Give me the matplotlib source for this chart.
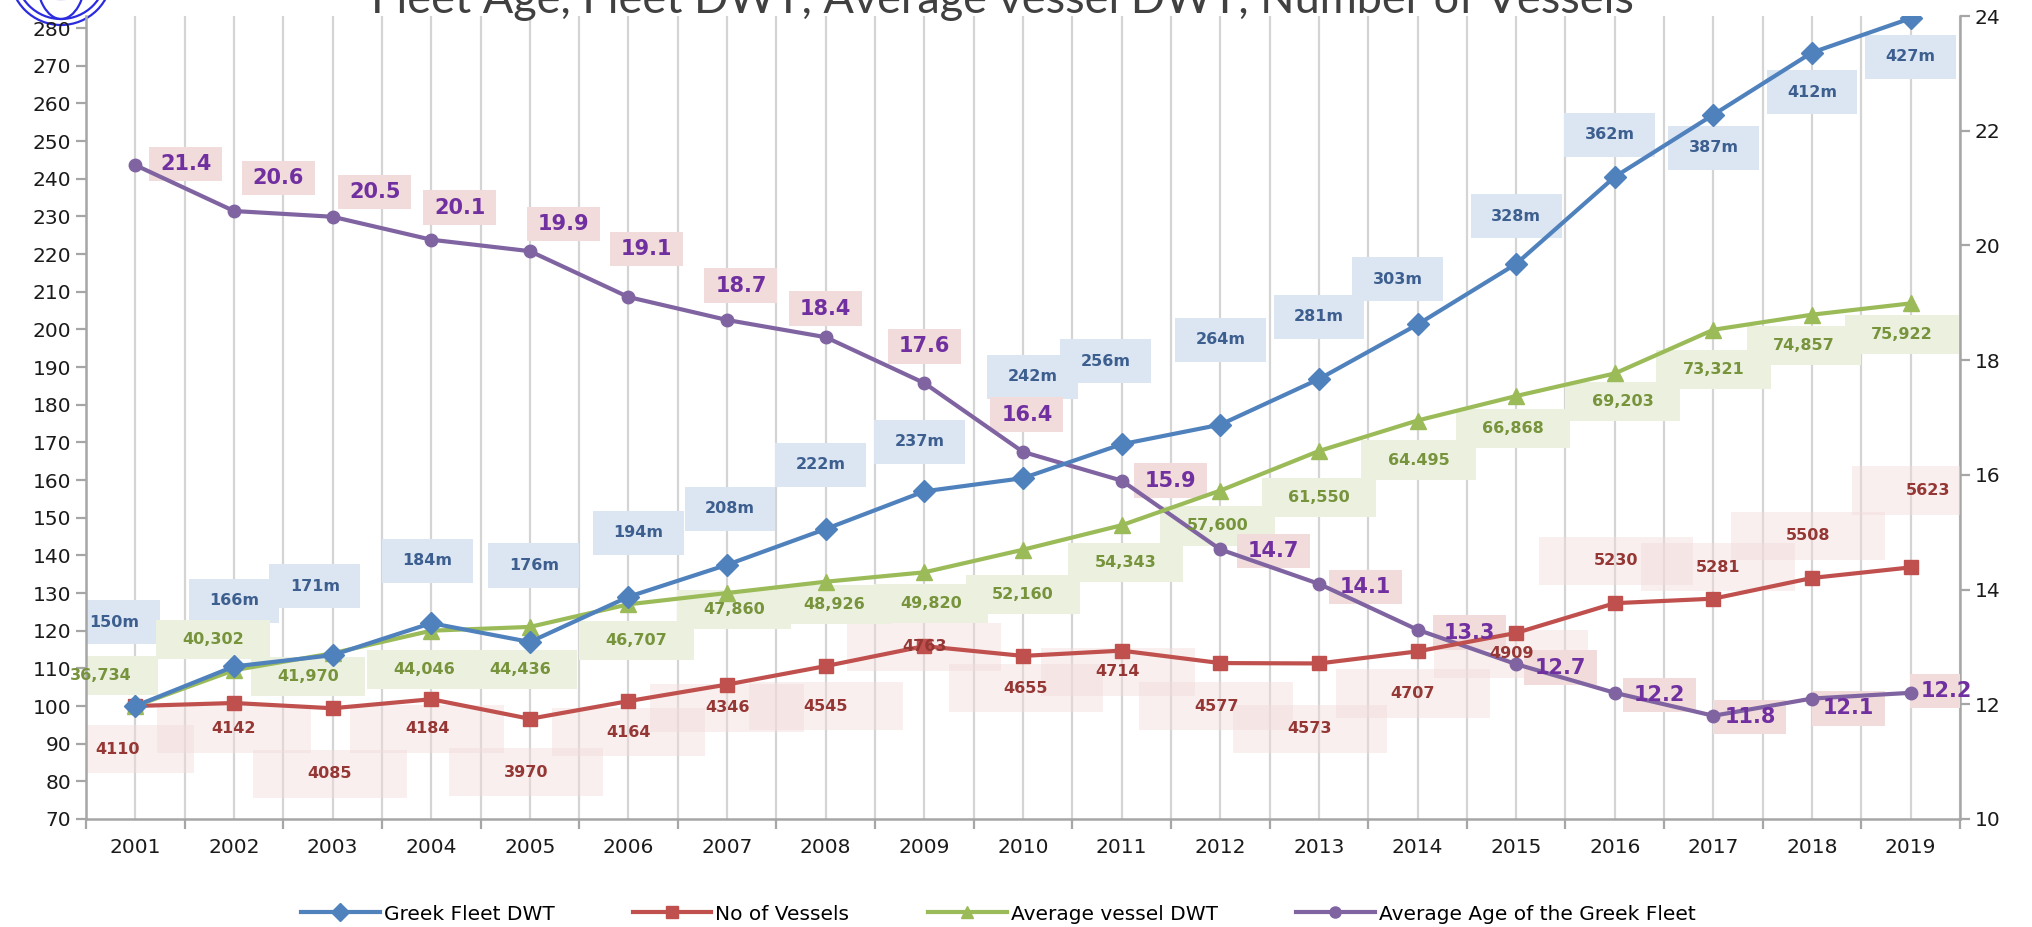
import matplotlib
matplotlib.use("Agg")
import matplotlib.pyplot as plt
from matplotlib.patches import Rectangle, Ellipse
from matplotlib.lines import Line2D

# ---------------- data ----------------
years = [str(y) for y in range(2001, 2020)]
fleet_dwt_index = [100, 110.5, 113.5, 122, 117, 129, 137.5, 147, 157, 160.5,
                   169.5, 174.7, 186.8, 201.3, 217.4, 240.5, 257, 273.5, 282.6]
fleet_dwt_labels = ["150m", "166m", "171m", "184m", "176m", "194m", "208m", "222m",
                    "237m", "242m", "256m", "264m", "281m", "303m", "328m", "362m",
                    "387m", "412m", "427m"]
vessels_index = [100, 100.8, 99.4, 101.8, 96.6, 101.3, 105.7, 110.6, 115.9, 113.3,
                 114.7, 111.4, 111.3, 114.5, 119.4, 127.3, 128.5, 134, 136.8]
vessels_labels = ["4110", "4142", "4085", "4184", "3970", "4164", "4346", "4545",
                  "4763", "4655", "4714", "4577", "4573", "4707", "4909", "5230",
                  "5281", "5508", "5623"]
avg_dwt_index = [100, 109.5, 114, 120, 121, 127, 130, 133, 135.5, 141.5,
                 148, 157.2, 167.7, 175.8, 182.3, 188.3, 199.9, 203.9, 206.9]
avg_dwt_labels = ["36,734", "40,302", "41,970", "44,046", "44,436", "46,707", "47,860",
                  "48,926", "49,820", "52,160", "54,343", "57,600", "61,550", "64.495",
                  "66,868", "69,203", "73,321", "74,857", "75,922"]
avg_age = [21.4, 20.6, 20.5, 20.1, 19.9, 19.1, 18.7, 18.4, 17.6, 16.4,
           15.9, 14.7, 14.1, 13.3, 12.7, 12.2, 11.8, 12.1, 12.2]

# ---------------- label layout (offsets from points) ----------------
blue_dx = [-0.21, 0, -0.18, -0.04, 0.04, 0.1, 0.03, -0.05, -0.05, 0.1, -0.16, 0, 0, -0.2, 0, -0.05, 0, 0, 0]
blue_dy = [22.2, 17.5, 18.3, 16.6, 20.3, 17, 14.9, 17, 13.2, 26.9, 22, 22.5, 16.5, 12, 12.6, 11.2, -8.8, -10.5, -10.2]
green_dx = [-0.35, -0.21, -0.25, -0.07, -0.1, 0.08, 0.07, 0.09, 0.07, 0, 0.04, -0.03, 0, 0.01, -0.03, 0.08, 0, -0.08, -0.09]
green_dy = [8.1, 8.2, -6.2, -10.2, -11.2, -9.6, -4.4, -6, -8.2, -11.8, -10, -9.4, -12.4, -10.5, -8.7, -7.5, -10.5, -8.2, -8.2]
red_dx = [-0.18, 0, -0.03, -0.04, -0.04, 0, 0, 0, 0, 0.03, -0.04, -0.04, -0.09, -0.05, -0.05, 0.01, 0.05, -0.04, 0.18]
red_dy = [-11.5, -6.8, -17.4, -7.8, -14.2, -8.3, -6.2, -10.7, -0.2, -8.6, -5.6, -11.5, -17.3, -11.2, -5.5, 11.3, 8.4, 11.2, 20.4]
purple_dx = [0.51, 0.45, 0.43, 0.29, 0.34, 0.18, 0.14, 0, 0, 0.04, 0.5, 0.54, 0.47, 0.53, 0.45, 0.45, 0.37, 0.37, 0.36]
purple_dy = [0.02, 0.58, 0.43, 0.56, 0.47, 0.84, 0.6, 0.5, 0.64, 0.65, 0, -0.03, -0.06, -0.05, -0.06, -0.04, -0.02, -0.17, 0.03]

BLUE, RED, GREEN, PURPLE = "#4F81BD", "#C0504D", "#9BBB59", "#8064A2"
AXCOL = "#A6A6A6"

plt.rcParams["font.family"] = ["DejaVu Sans"]
fig = plt.figure(figsize=(20.33, 9.27), dpi=100)
ax = fig.add_axes([86/2033, 1-819/927, (1960-86)/2033, (819-16)/927])
ax2 = ax.twinx()
# right axis underneath (grid only), main axis on top (transparent)
ax2.set_zorder(1)
ax.set_zorder(2)
ax.patch.set_visible(False)

ax.set_xlim(-0.5, len(years) - 0.5)
ax.set_ylim(70, 283.2)
ax2.set_ylim(10, 24)

x = list(range(len(years)))

# vertical gridlines (on categories and between them)
for xi in [i * 0.5 - 0.5 for i in range(2 * len(years) + 1)]:
    ax2.axvline(xi, color="#D4D4D4", lw=1.6, zorder=0)

t2 = ax2.transData

# ---- label boxes
for i in range(len(years)):
    cx, cy = i + red_dx[i], vessels_index[i] + red_dy[i]
    ax.add_patch(Rectangle((cx - 0.78, cy - 6.4), 1.56, 12.8, facecolor="#F2DCDB",
                           edgecolor="none", alpha=0.45, zorder=1))
for i in range(len(years)):
    cx, cy = i + blue_dx[i], fleet_dwt_index[i] + blue_dy[i]
    ax.add_patch(Rectangle((cx - 0.46, cy - 5.85), 0.92, 11.7, facecolor="#DCE6F2",
                           edgecolor="none", zorder=1.2))
for i in range(len(years)):
    cx, cy = i + green_dx[i], avg_dwt_index[i] + green_dy[i]
    ax.add_patch(Rectangle((cx - 0.58, cy - 5.2), 1.16, 10.4, facecolor="#EBF1DE",
                           edgecolor="none", zorder=1.3))
for i in range(len(years)):
    cx, cy = i + purple_dx[i], avg_age[i] + purple_dy[i]
    ax.add_patch(Rectangle((cx - 0.37, cy - 0.3), 0.74, 0.6, facecolor="#F2DCDB",
                           edgecolor="none", zorder=1.4, transform=t2))

# ---- series
ax.plot(x, avg_age, color=PURPLE, lw=3, marker="o", ms=9, zorder=3, transform=t2)
ax.plot(x, vessels_index, color=RED, lw=3, marker="s", ms=10, zorder=3.05)
ax.plot(x, avg_dwt_index, color=GREEN, lw=3, marker="^", ms=11, zorder=3.1)
ax.plot(x, fleet_dwt_index, color=BLUE, lw=3, marker="D", ms=11, zorder=3.2)

# ---- labels
for i in range(len(years)):
    ax.text(i + red_dx[i], vessels_index[i] + red_dy[i], vessels_labels[i], ha="center",
            va="center", fontsize=11.5, fontweight="bold", color="#953735", zorder=4)
    ax.text(i + blue_dx[i], fleet_dwt_index[i] + blue_dy[i], fleet_dwt_labels[i], ha="center",
            va="center", fontsize=11.5, fontweight="bold", color="#3D5F8F", zorder=4)
    ax.text(i + green_dx[i], avg_dwt_index[i] + green_dy[i], avg_dwt_labels[i], ha="center",
            va="center", fontsize=11.5, fontweight="bold", color="#77933C", zorder=4)
    ax.text(i + purple_dx[i], avg_age[i] + purple_dy[i], f"{avg_age[i]:.1f}", ha="center",
            va="center", fontsize=15, fontweight="bold", color="#7030A0", zorder=4,
            transform=t2)

# ---- axes formatting
ax.set_yticks(range(70, 281, 10))
ax2.set_yticks(range(10, 25, 2))
ax.set_xticks(x)
ax.set_xticklabels(years, fontsize=14.5)
ax.set_xticks([i - 0.5 for i in range(len(years) + 1)], minor=True)
ax.tick_params(axis="x", which="major", length=0, pad=14, colors="#1A1A1A")
ax.tick_params(axis="x", which="minor", length=7, width=1.6, color=AXCOL)
ax.tick_params(axis="y", labelsize=14.5, length=7, width=1.6, color=AXCOL, labelcolor="#1A1A1A")
ax2.tick_params(axis="y", labelsize=14.5, length=7, width=1.6, color=AXCOL, labelcolor="#1A1A1A")
for a in (ax, ax2):
    a.spines["top"].set_visible(False)
    for s in ("left", "right", "bottom"):
        a.spines[s].set_color(AXCOL)
        a.spines[s].set_linewidth(1.8)
ax.spines["right"].set_visible(False)
ax2.spines["left"].set_visible(False)
ax2.spines["bottom"].set_visible(False)

# ---- title (partially cut at the top, as in the reference)
fig.text(0.493, 1 - 13/927, "Fleet Age, Fleet DWT, Average vessel DWT, Number of Vessels",
         ha="center", va="baseline", fontsize=32.5, color="#404040", family=["Lato", "DejaVu Sans"])

# ---- logo (partial globe)
for w, h in [(1.02, 1.02), (0.9, 0.9), (0.5, 0.9), (0.9, 0.5)]:
    fig.add_artist(Ellipse((0.61, 9.27 + 0.26), w, h, transform=fig.dpi_scale_trans,
                           fill=False, edgecolor="#2B2BE0", lw=1.6))

# ---- legend
handles = [Line2D([], [], color=BLUE, lw=3, marker="D", ms=9),
           Line2D([], [], color=RED, lw=3, marker="s", ms=9),
           Line2D([], [], color=GREEN, lw=3, marker="^", ms=9),
           Line2D([], [], color=PURPLE, lw=3, marker="o", ms=8)]
fig.legend(handles, ["Greek Fleet DWT", "No of Vessels", "Average vessel DWT",
                     "Average Age of the Greek Fleet"],
           loc="center", bbox_to_anchor=(0.491, 1 - 914/927), ncol=4, frameon=False,
           fontsize=14.5, handlelength=3.9, handletextpad=0.2, columnspacing=3.9)

fig.savefig("out.png", dpi=100)
